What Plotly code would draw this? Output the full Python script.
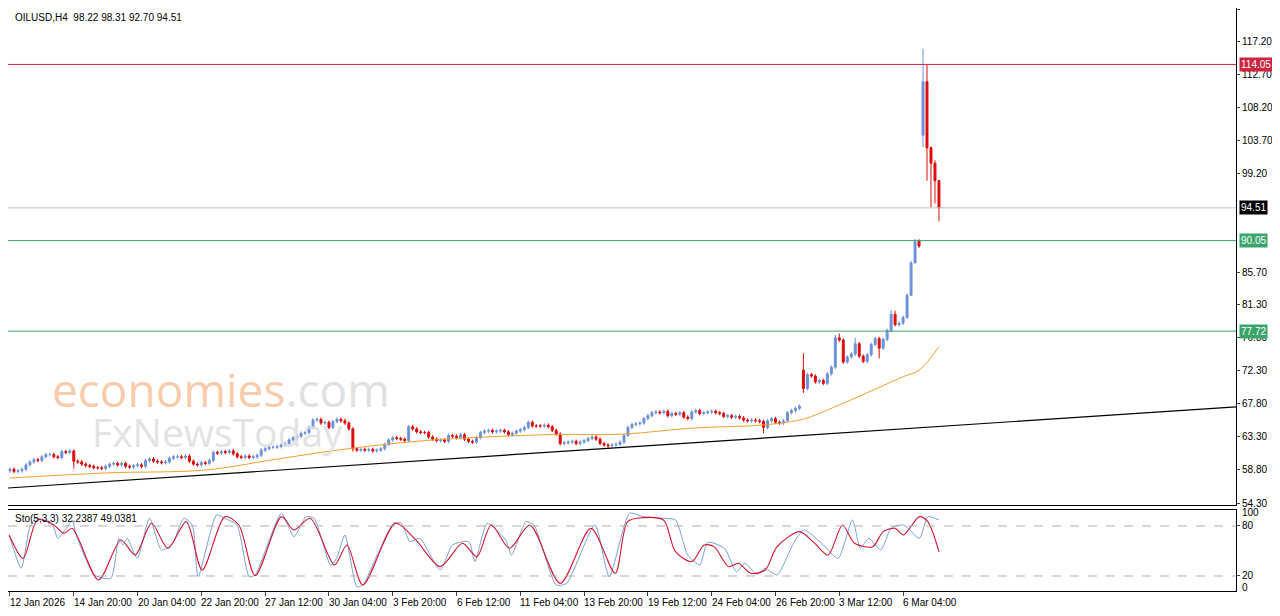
import plotly.graph_objects as go
from plotly.subplots import make_subplots

# H4 closes, one per bar (12 Jan 2026 -> 9 Mar 2026)
closes = [
    58.9, 58.6, 58.7, 58.9, 59.5, 59.9, 60.2, 60.1, 60.6, 60.9,
    60.9, 60.6, 60.5, 61.3, 61.2, 61.4, 60.0, 59.9, 59.6, 59.4,
    59.3, 59.1, 59.1, 59.0, 59.3, 59.6, 59.7, 59.5, 59.7, 59.3,
    59.2, 59.4, 59.5, 59.3, 60.1, 60.3, 60.0, 59.9, 59.8, 59.9,
    60.4, 60.6, 60.6, 60.5, 60.7, 60.0, 59.6, 59.5, 59.8, 59.7,
    60.1, 61.2, 61.1, 61.3, 61.2, 61.4, 61.0, 60.6, 60.5, 60.7,
    60.5, 60.6, 60.8, 61.5, 61.7, 61.9, 61.9, 62.0, 62.2, 62.4,
    62.9, 63.2, 63.4, 63.8, 63.9, 64.6, 65.6, 65.7, 65.2, 65.3,
    64.6, 65.4, 65.7, 65.5, 65.2, 64.4, 61.7, 61.5, 61.6, 61.5,
    61.6, 61.4, 61.5, 61.7, 62.3, 62.9, 63.2, 63.1, 63.0, 62.8,
    64.7, 64.4, 64.0, 63.9, 63.9, 63.3, 63.0, 62.8, 62.9, 62.7,
    63.5, 63.4, 63.2, 63.6, 63.0, 62.7, 62.6, 63.2, 63.9, 64.1,
    64.2, 64.0, 64.1, 64.2, 64.0, 63.6, 63.8, 64.1, 64.3, 64.6,
    65.3, 64.8, 64.8, 64.8, 64.9, 64.7, 64.2, 63.7, 62.4, 62.5,
    62.6, 62.7, 62.4, 62.6, 62.8, 63.1, 63.3, 63.0, 62.4, 62.2,
    62.1, 62.2, 62.3, 62.6, 63.5, 64.6, 65.0, 65.1, 65.2, 65.8,
    66.2, 66.6, 66.7, 66.6, 66.8, 66.2, 66.5, 66.4, 66.6, 66.0,
    65.8, 66.7, 66.9, 66.5, 66.6, 66.7, 66.8, 66.6, 66.5, 66.1,
    66.2, 66.0, 66.1, 65.9, 65.6, 65.5, 65.6, 65.5, 65.4, 64.6,
    65.5, 65.8, 65.3, 65.2, 65.5, 66.6, 66.9, 67.2, 67.5,
    69.9, 71.8, 71.6, 70.8, 71.0, 70.6, 71.9, 72.8, 76.8, 76.5,
    73.5, 74.2, 74.6, 76.0, 74.3, 73.6, 74.5, 75.9, 76.7, 75.4,
    76.6, 77.8, 80.0, 78.6, 78.8, 79.6, 82.6, 87.0, 89.9, 89.3,
    111.7, 102.7, 100.6, 98.2, 94.51,
]
# opens that differ from the previous close (gaps)
open_gaps = {0: 58.7, 199: 72.4, 228: 90.0, 229: 104.4, 230: 111.7, 233: 98.22}
high_marks = {16: 61.6, 84: 65.8, 199: 74.7, 207: 77.2, 208: 77.4, 212: 76.8,
              221: 80.6, 222: 80.5, 226: 87.3, 227: 90.3, 229: 116.2, 230: 114.0,
              231: 102.9, 232: 101.0, 233: 98.31}
low_marks = {16: 59.0, 86: 61.3, 150: 61.7, 189: 63.8, 199: 69.3, 218: 74.0,
             226: 85.8, 227: 87.5, 229: 102.8, 230: 98.2, 231: 94.6, 232: 95.1,
             233: 92.70}

# orange moving average, read as vertices (bar index, price)
ma_idx = [0, 24, 49, 66, 82, 104, 134, 154, 171, 188, 196, 200, 209, 224, 228, 233]
ma_val = [57.7, 58.4, 58.8, 60.2, 61.5, 62.8, 63.6, 63.7, 64.5, 64.9, 65.4, 65.9, 67.9, 71.5, 72.4, 75.6]

# black trend line end points
trend_idx = [-0.5, 307.5]
trend_val = [56.35, 67.4]

levels = [114.05, 90.05, 77.72]
level_colors = ["#d0253f", "#3aa56a", "#3aa56a"]
last_price = 94.51

# Stochastic(5,3,3) vertices
k_idx = [-0.2, 2.8, 4.9, 6.4, 10.5, 12, 14.1, 15.6, 16.6, 21.2, 25.3, 27.3, 28.3, 29.4, 31.9, 35, 38,
         40.6, 43.6, 45.7, 47.2, 51.8, 53.9, 56.9, 60, 61.5, 68.1, 71.2, 74.3, 76.3, 80.4, 81.9, 84, 87,
         88.5, 92.1, 96.2, 98.2, 100.3, 102.8, 107.9, 111, 115.1, 116.6, 119.7, 124.3, 125.8, 129.4,
         131.4, 137, 139.6, 146.7, 150.3, 155.4, 158.75, 163.9, 166.9, 170, 173, 175, 179.2, 182.2,
         184.3, 187.3, 189.4, 192.4, 196.5, 199.1, 203.6, 207.7, 211.3, 213.3, 215.4, 218.4, 221,
         224.1, 228.1, 230.2, 233]
k_val = [69.2, 29.2, 77.2, 89.2, 83.2, 65.2, 77.2, 87.2, 69.2, 21.2, 17.2, 65.2, 57.2, 65.2, 41.2, 89.2,
         51.2, 57.2, 89.2, 81.2, 19.2, 93.2, 89.2, 81.2, 19.2, 21.2, 95.2, 67.2, 91.2, 89.2, 33.2, 41.2,
         69.2, 7.2, 9.2, 45.2, 83.2, 83.2, 61.2, 65.2, 27.2, 57.2, 61.2, 37.2, 83.2, 63.2, 45.2, 85.2,
         81.2, 9.2, 11.2, 81.2, 19.2, 95.2, 91.2, 89.2, 87.2, 45.2, 33.2, 60.4, 53.2, 25.2, 35.2,
         22.0, 29.2, 21.2, 59.2, 75.2, 59.2, 41.2, 87.2, 53.2, 65.2, 51.2, 77.2, 81.2, 65.2, 91.2,
         87.2, 32.24]
d_idx = [-0.2, 3.3, 6.9, 11, 13.5, 15.6, 22.2, 27.8, 31.4, 35.5, 39.6, 44.2, 48.2, 53.9, 57.4, 61.5,
         68.1, 71.2, 75.3, 81.4, 84.5, 88.5, 96.7, 101.8, 107.9, 113.5, 117.1, 120.7, 125.3, 130.4,
         138, 145.7, 151.8, 154.9, 158.75, 163.9, 166.9, 171, 174.1, 176.6, 180.2, 182.7, 185.8,
         189.4, 192.4, 198, 201.6, 205.2, 208.8, 211.8, 216.4, 219, 222, 224.1, 228.1, 230.2, 233]
d_val = [69.2, 41.2, 87.2, 81.2, 71.2, 77.2, 15.2, 63.2, 45.2, 83.2, 53.2, 85.2, 27.2, 91.2, 81.2, 20.4,
         91.2, 75.2, 89.2, 33.2, 57.2, 9.2, 83.2, 63.2, 31.2, 59.2, 43.2, 81.2, 53.2, 81.2,
         11.2, 77.2, 23.2, 85.2, 90.0, 87.2, 49.2, 37.2, 57.2, 55.2, 31.2, 35.2, 23.2,
         27.2, 55.2, 73.2, 60.4, 45.2, 81.2, 59.2, 55.2, 73.2, 77.2, 69.2, 91.2, 85.2, 49.04]

tick_idx = [0, 16, 32, 48, 64, 80, 96, 112, 128, 144, 160, 176, 192, 208, 224]
tick_txt = ["12 Jan 2026", "14 Jan 20:00", "20 Jan 04:00", "22 Jan 20:00", "27 Jan 12:00",
            "30 Jan 04:00", "3 Feb 20:00", "6 Feb 12:00", "11 Feb 04:00", "13 Feb 20:00",
            "19 Feb 12:00", "24 Feb 04:00", "26 Feb 20:00", "3 Mar 12:00", "6 Mar 04:00"]
price_ticks = [121.60, 117.20, 112.70, 108.20, 103.70, 99.20, 85.70, 81.30, 76.80, 72.30,
               67.80, 63.30, 58.80, 54.30]

n = len(closes)
idx = list(range(n))
opens = [open_gaps.get(i, closes[i - 1] if i else closes[0]) for i in idx]
highs = [high_marks.get(i, max(opens[i], closes[i]) + 0.25) for i in idx]
lows = [low_marks.get(i, min(opens[i], closes[i]) - 0.25) for i in idx]

FONT = "Liberation Sans"
XR = [-0.5, 307.5]

fig = make_subplots(rows=2, cols=1, shared_xaxes=False)

fig.add_trace(go.Scatter(x=trend_idx, y=trend_val, mode="lines",
                         line=dict(color="black", width=1.2), hoverinfo="skip"), row=1, col=1)
fig.add_trace(go.Scatter(x=ma_idx, y=ma_val, mode="lines", line_shape="spline",
                         line=dict(color="#f0a030", width=1), hoverinfo="skip"), row=1, col=1)
fig.add_trace(go.Candlestick(
    x=idx, open=opens, high=highs, low=lows, close=closes, whiskerwidth=0,
    increasing=dict(line=dict(color="#6d91d9", width=1), fillcolor="#6d91d9"),
    decreasing=dict(line=dict(color="#dd0b0b", width=1), fillcolor="#dd0b0b"),
), row=1, col=1)

fig.add_trace(go.Scatter(x=k_idx, y=k_val, mode="lines", line_shape="spline",
                         line=dict(color="#7a9fd8", width=1, smoothing=0.6)), row=2, col=1)
fig.add_trace(go.Scatter(x=d_idx, y=d_val, mode="lines", line_shape="spline",
                         line=dict(color="#d4142e", width=1.1, smoothing=0.8)), row=2, col=1)

for lv, col in zip(levels, level_colors):
    fig.add_hline(y=lv, line=dict(color=col, width=1), row=1, col=1)
fig.add_hline(y=last_price, line=dict(color="#c0c0c0", width=1), row=1, col=1)
for s in (80, 20):
    fig.add_hline(y=s, line=dict(color="#b0b0b0", width=1, dash="dash"), row=2, col=1)

# right-side price boxes
for lv, col in list(zip(levels, level_colors)) + [(last_price, "black")]:
    fig.add_annotation(x=1.0, xref="paper", y=lv, yref="y", text=f"{lv:.2f}",
                       xanchor="left", showarrow=False, xshift=3, bgcolor=col,
                       font=dict(color="white", size=10, family=FONT), borderpad=1)

# page body adds 8px on the left/top, so the figure is 8px smaller
fig.update_layout(
    width=1272, height=608, showlegend=False,
    paper_bgcolor="white", plot_bgcolor="white",
    margin=dict(l=0, r=44, t=0, b=25, autoexpand=False),
    font=dict(family=FONT, size=10, color="black"),
    yaxis=dict(domain=[0.1475, 1.0]),
    yaxis2=dict(domain=[0.0, 0.139]),
)
fig.update_xaxes(range=XR, showgrid=False, showticklabels=False, zeroline=False,
                 showline=True, linecolor="black", mirror=True, rangeslider_visible=False)
fig.update_xaxes(ticks="outside", tickvals=tick_idx, ticktext=tick_txt, ticklen=4,
                 showticklabels=False, row=2, col=1)
fig.update_yaxes(side="right", showgrid=False, zeroline=False, showline=True,
                 linecolor="black", mirror=True, ticks="outside", ticklen=3,
                 tickfont=dict(size=10, family=FONT))
fig.update_yaxes(range=[54.03, 121.74], tickvals=price_ticks,
                 ticktext=[f"{p:.2f}" for p in price_ticks], row=1, col=1)
fig.update_yaxes(range=[2, 99.2], tickvals=[80, 20], ticktext=["80", "20"], row=2, col=1)

# stochastic scale ends drawn as text like the terminal does
fig.add_annotation(x=1.0, xref="paper", y=95.6, yref="y2", text="100", xanchor="left",
                   yanchor="middle", showarrow=False, xshift=4)
fig.add_annotation(x=1.0, xref="paper", y=6.8, yref="y2", text="0", xanchor="left",
                   yanchor="middle", showarrow=False, xshift=4)

for t, s in zip(tick_idx, tick_txt):
    fig.add_annotation(x=t, xref="x2", y=0, yref="paper", text=s, xanchor="left",
                       yanchor="top", showarrow=False, yshift=-4, xshift=-2)

fig.add_annotation(x=0.004, xref="paper", y=1, yref="paper", text="OILUSD,H4  98.22 98.31 92.70 94.51",
                   xanchor="left", yanchor="top", showarrow=False, yshift=-2)
fig.add_annotation(x=0.004, xref="paper", y=0.139, yref="paper", text="Sto(5,3,3) 32.2387 49.0381",
                   xanchor="left", yanchor="top", showarrow=False, yshift=-1)

# watermark
fig.add_annotation(x=53, y=69.9, xref="x", yref="y",
                   text="<span style='color:#f7c7a5'>economies</span><span style='color:#dddddd'>.com</span>",
                   showarrow=False, font=dict(size=46, family="Open Sans"), opacity=0.9)
fig.add_annotation(x=52, y=64.1, xref="x", yref="y", text="FxNewsToday",
                   showarrow=False, font=dict(size=39, family="Open Sans", color="#dcdcdc"), opacity=0.8)

fig.write_html("out.html")
